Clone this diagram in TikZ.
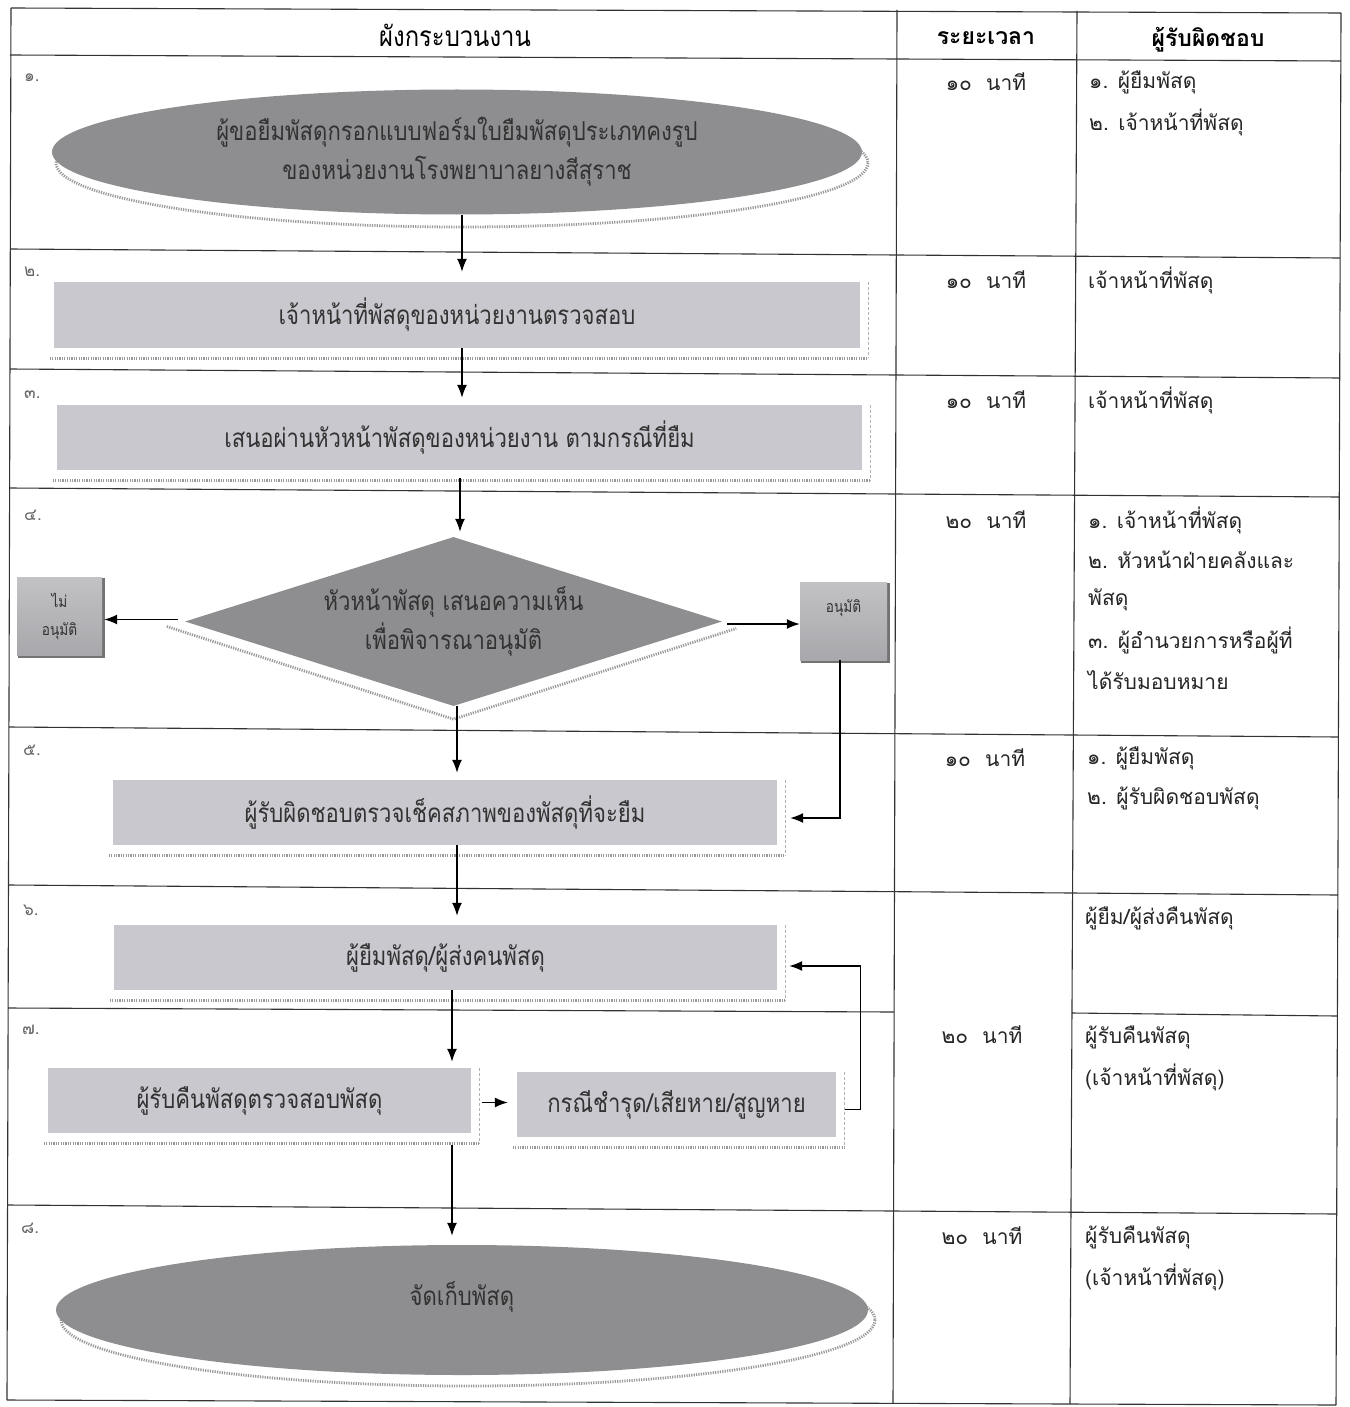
\documentclass[tikz,border=0pt]{standalone}
\usepackage{fontspec}
\setmainfont{Loma}[Script=Thai]
\newfontfamily\boxfont{Loma}[Script=Thai,FakeStretch=0.85]
\usetikzlibrary{shapes.geometric,arrows.meta,calc,backgrounds}
\definecolor{darkfill}{RGB}{142,142,145}
\definecolor{boxfill}{RGB}{200,200,206}
\definecolor{smallfill}{RGB}{168,168,172}
\definecolor{boxtext}{RGB}{50,50,50}
\begin{document}
\begin{tikzpicture}[x=1pt,y=-1pt,
  tbl/.style={line width=1.1pt,black!80},
  cell/.style={font=\fontsize{21}{24}\selectfont,text=black!85,inner sep=0},
  celll/.style={cell,anchor=west},
  hdr/.style={font=\bfseries\fontsize{23}{26}\selectfont,text=black,inner sep=0},
  num/.style={font=\fontsize{17}{18}\selectfont,text=black!60,anchor=west,inner sep=0},
  procbox/.style={rectangle,fill=boxfill,inner sep=0,align=center,
     font=\boxfont\fontsize{26}{39}\selectfont,text=boxtext},
  term/.style={ellipse,fill=darkfill,inner sep=0,align=center,
     font=\boxfont\fontsize{26}{39}\selectfont,text=boxtext},
  decide/.style={diamond,fill=darkfill,inner sep=0,align=center,
     font=\boxfont\fontsize{26}{39}\selectfont,text=boxtext},
  smallbox/.style={rectangle,top color=smallfill!70,bottom color=smallfill,inner sep=0,align=center,
     font=\boxfont\fontsize{16}{28}\selectfont,text=boxtext},
  arr/.style={line width=1.4pt,black,-{Latex[length=13pt,width=10pt]}},
  link/.style={line width=1.4pt,black},
  edgebot/.style={gray!80,line width=2.6pt,dash pattern=on 1.2pt off 1.2pt},
  edgeside/.style={gray!60,line width=0.8pt,dash pattern=on 3pt off 2pt},
  shadowline/.style={gray!80,line width=2.8pt,dash pattern=on 1.2pt off 1.2pt}
]
\useasboundingbox (0,0) rectangle (1349,1407);
\begin{scope}[on background layer]
  \fill[white] (0,0) rectangle (1349,1407);
\end{scope}

% ---------- table frame ----------
\draw[tbl] (11,8) -- (1341,13);
\draw[tbl] (10,55) -- (1341,61);
\draw[tbl] (10,249) -- (1340,258);
\draw[tbl] (10,369) -- (1340,378);
\draw[tbl] (10,488) -- (1339,497);
\draw[tbl] (9,727) -- (1338,737);
\draw[tbl] (9,885) -- (1338,895);
\draw[tbl] (8,1008) -- (894,1012);
\draw[tbl] (1072,1013) -- (1337,1016);
\draw[tbl] (8,1205) -- (1337,1214);
\draw[tbl] (7,1400) -- (1336,1405);
\draw[tbl] (11,8) -- (7,1400);
\draw[tbl] (897,10) -- (893,1403);
\draw[tbl] (1077,11) -- (1070,1404);
\draw[tbl] (1341,13) -- (1336,1405);

% ---------- headers ----------
\node[hdr,font=\boxfont\fontsize{28}{30}\selectfont] (h1) at (455,35) {ผังกระบวนงาน};
\node[hdr] (h2) at (986,38) {ระยะเวลา};
\node[hdr] (h3) at (1208,40) {ผู้รับผิดชอบ};

% ---------- row numbers ----------
\node[num] (n1) at (24,78) {๑.};
\node[num] (n2) at (24,272) {๒.};
\node[num] (n3) at (24,395) {๓.};
\node[num] (n4) at (24,515) {๔.};
\node[num] (n5) at (23,750) {๕.};
\node[num] (n6) at (23,910) {๖.};
\node[num] (n7) at (22,1030) {๗.};
\node[num] (n8) at (21,1228) {๘.};

% ---------- time column ----------
\node[cell] (t1) at (986,82) {๑๐\ \ นาที};
\node[cell] (t2) at (986,280) {๑๐\ \ นาที};
\node[cell] (t3) at (986,400) {๑๐\ \ นาที};
\node[cell] (t4) at (986,520) {๒๐\ \ นาที};
\node[cell] (t5) at (985,758) {๑๐\ \ นาที};
\node[cell] (t6) at (982,1035) {๒๐\ \ นาที};
\node[cell] (t8) at (982,1236) {๒๐\ \ นาที};

% ---------- responsible column ----------
\node[celll] (r1a) at (1089,82) {๑. ผู้ยืมพัสดุ};
\node[celll] (r1b) at (1089,122) {๒. เจ้าหน้าที่พัสดุ};
\node[celll] (r2) at (1088,280) {เจ้าหน้าที่พัสดุ};
\node[celll] (r3) at (1088,400) {เจ้าหน้าที่พัสดุ};
\node[celll] (r4a) at (1088,520) {๑. เจ้าหน้าที่พัสดุ};
\node[celll] (r4b) at (1088,560) {๒. หัวหน้าฝ่ายคลังและ};
\node[celll] (r4c) at (1088,600) {พัสดุ};
\node[celll] (r4d) at (1088,640) {๓. ผู้อำนวยการหรือผู้ที่};
\node[celll] (r4e) at (1088,680) {ได้รับมอบหมาย};
\node[celll] (r5a) at (1087,758) {๑. ผู้ยืมพัสดุ};
\node[celll] (r5b) at (1087,798) {๒. ผู้รับผิดชอบพัสดุ};
\node[celll] (r6) at (1085,918) {ผู้ยืม/ผู้ส่งคืนพัสดุ};
\node[celll] (r7a) at (1085,1037) {ผู้รับคืนพัสดุ};
\node[celll] (r7b) at (1085,1077) {(เจ้าหน้าที่พัสดุ)};
\node[celll] (r8a) at (1085,1237) {ผู้รับคืนพัสดุ};
\node[celll] (r8b) at (1085,1277) {(เจ้าหน้าที่พัสดุ)};

% ---------- flowchart shapes ----------
\node[term,minimum width=810,minimum height=125] (s1) at (457,152)
  {ผู้ขอยืมพัสดุกรอกแบบฟอร์มใบยืมพัสดุประเภทคงรูป\\ของหน่วยงานโรงพยาบาลยางสีสุราช};
\node[procbox,minimum width=806,minimum height=66] (s2) at (457,315)
  {เจ้าหน้าที่พัสดุของหน่วยงานตรวจสอบ};
\node[procbox,minimum width=805,minimum height=65] (s3) at (459.5,437.5)
  {เสนอผ่านหัวหน้าพัสดุของหน่วยงาน ตามกรณีที่ยืม};
\node[decide,minimum width=537,minimum height=169,aspect=3.18] (s4) at (453.5,621.5)
  {หัวหน้าพัสดุ เสนอความเห็น\\เพื่อพิจารณาอนุมัติ};
\node[smallbox,minimum width=85,minimum height=78] (nA) at (59.5,616) {ไม่\\อนุมัติ};
\node[smallbox,minimum width=87,minimum height=78,text height=12,text depth=30] (nB) at (843.5,621) {อนุมัติ};
\node[procbox,minimum width=664,minimum height=65] (s5) at (445,812.5)
  {ผู้รับผิดชอบตรวจเช็คสภาพของพัสดุที่จะยืม};
\node[procbox,minimum width=663,minimum height=65] (s6) at (445.5,957.5)
  {ผู้ยืมพัสดุ/ผู้ส่งคนพัสดุ};
\node[procbox,minimum width=423,minimum height=65] (s7a) at (259.5,1100.5)
  {ผู้รับคืนพัสดุตรวจสอบพัสดุ};
\node[procbox,minimum width=319,minimum height=65] (s7b) at (676.5,1104.5)
  {กรณีชำรุด/เสียหาย/สูญหาย};
\node[term,minimum width=812,minimum height=130] (s8) at (462,1310) {\raisebox{34pt}{จัดเก็บพัสดุ}};

% ---------- 3D edges / shadows ----------
\begin{scope}[on background layer]
  \draw[shadowline] ($(s1.center)+(5,11)$) ellipse [x radius=406, y radius=64];
  \draw[shadowline] ($(s8.center)+(6,10)$) ellipse [x radius=407, y radius=66];
  \draw[shadowline] ($(s4.west)+(-18,5)$) -- ($(s4.south)+(0,13)$) -- ($(s4.east)+(14,7)$);
  \foreach \b in {s2,s3,s5,s6,s7a,s7b}{
    \draw[edgebot] ([xshift=-4pt,yshift=-10pt]\b.south west) -- ([xshift=8pt,yshift=-10pt]\b.south east);
    \draw[edgeside] ([xshift=8pt]\b.north east) -- ([xshift=8pt,yshift=-10pt]\b.south east);
  }
  \foreach \b in {nA,nB}{
    \draw[black!55,line width=2.5pt] ([xshift=1pt,yshift=-1.5pt]\b.south west) -- ([xshift=1.5pt,yshift=-1.5pt]\b.south east) -- ([xshift=1.5pt,yshift=-1pt]\b.north east);
  }
\end{scope}

% ---------- connectors ----------
\draw[arr,shorten >=10pt] ([xshift=5pt]s1.south) -- ([xshift=5pt]s1.south |- s2.north);
\draw[arr,shorten >=7pt] ([xshift=5pt]s2.south) -- ([xshift=5pt]s2.south |- s3.north);
\draw[arr,shorten >=5pt] ([xshift=0.5pt,yshift=-8pt]s3.south) -- ([xshift=0.5pt]s3.south |- s4.north);
\draw[arr,shorten <=7pt,shorten >=2pt] ([yshift=2pt]s4.west) -- ([yshift=2pt]s4.west -| nA.east);
\draw[arr,shorten <=5pt] ([yshift=-2.5pt]s4.east) -- ([yshift=-2.5pt]s4.east -| nB.west);
\coordinate (s5in) at ([yshift=-5.5pt]s5.east);
\draw[arr,shorten >=13pt] ([xshift=-3.5pt]nB.south) -- ([xshift=-3.5pt]nB.south |- s5in) -- (s5in);
\draw[arr,shorten >=7pt] ([xshift=3.5pt]s4.south) -- ([xshift=3.5pt]s4.south |- s5.north);
\draw[arr,shorten >=9pt] ([xshift=12pt]s5.south) -- ([xshift=12pt]s5.south |- s6.north);
\draw[arr,shorten >=6pt] ([xshift=6.5pt]s6.south) -- ([xshift=6.5pt]s6.south |- s7a.north);
\draw[arr,shorten <=11pt,shorten >=9pt] ([yshift=-2pt]s7a.east) -- ([yshift=-2pt]s7a.east -| s7b.west);
\coordinate (s6in) at ([yshift=-8.5pt]s6.east);
\coordinate (c7) at ([xshift=24pt,yshift=-5pt]s7b.east);
\draw[link] ([yshift=-5pt,xshift=9pt]s7b.east) -- (c7);
\draw[arr,shorten >=12pt] (c7) -- (c7 |- s6in) -- (s6in);
\coordinate (a8) at ([xshift=-10pt]s8.north);
\draw[arr,shorten >=9pt] ([yshift=-12pt]s7a.south -| a8) -- (a8);
\end{tikzpicture}
\end{document}
